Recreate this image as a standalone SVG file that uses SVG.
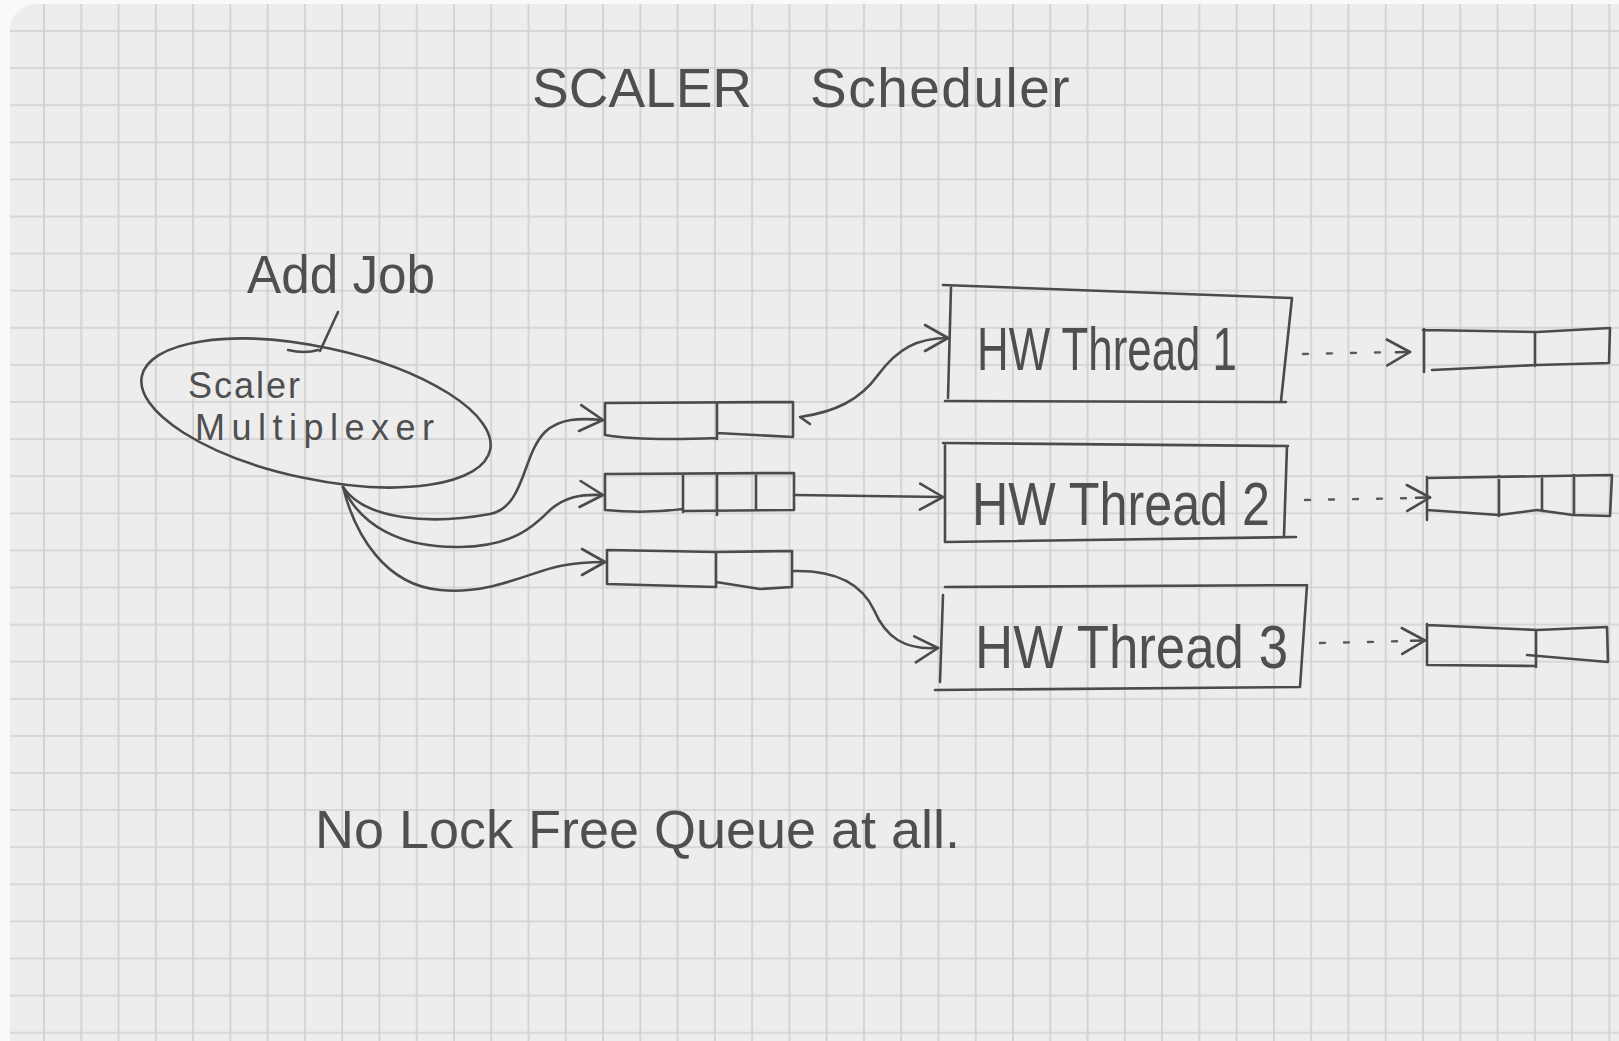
<svg xmlns="http://www.w3.org/2000/svg" width="1619" height="1041" viewBox="0 0 1619 1041">
  <style>
    .ink { fill: none; stroke: #4b4b4b; stroke-width: 2.6; stroke-linecap: round; stroke-linejoin: round; }
    .dot { fill: none; stroke: #5a5a5a; stroke-width: 2.4; stroke-linecap: round; stroke-dasharray: 5 19; }
    .hand { font-family: "Liberation Sans", Arial, sans-serif; fill: #4f4f4f; }
  </style>
  <defs>
    <pattern id="grid" x="25.365" y="12.45" width="37.27" height="37.1" patternUnits="userSpaceOnUse">
      <path d="M18.635 0 V37.1 M0 18.55 H37.27" stroke="#d0d0d0" stroke-width="1.7" fill="none"/>
    </pattern>
    <marker id="arr" viewBox="-26 -16 30 32" markerWidth="30" markerHeight="32" refX="0" refY="0" orient="auto" markerUnits="userSpaceOnUse">
      <path d="M-23 -13 L0 0 L-23 13" fill="none" stroke="#4b4b4b" stroke-width="2.6" stroke-linecap="round" stroke-linejoin="round"/>
    </marker>
  </defs>

  <!-- paper -->
  <rect x="0" y="0" width="1619" height="1041" fill="#f9f9f9"/>
  <path d="M10 30 Q12 6 36 4 L1619 4 L1619 1041 L10 1041 Z" fill="#ededed"/>
  <path d="M10 30 Q12 6 36 4 L1619 4 L1619 1041 L10 1041 Z" fill="url(#grid)"/>

  <g id="title">
    <text class="hand" y="107" font-size="55"><tspan x="532">SCALER</tspan> <tspan x="810" letter-spacing="1.5">Scheduler</tspan></text>
  </g>

  <g id="add-job">
    <text class="hand" x="247" y="293" font-size="54" textLength="188" lengthAdjust="spacingAndGlyphs">Add Job</text>
  </g>

  <g id="multiplexer">
    <ellipse class="ink" cx="316" cy="413" rx="178" ry="66" transform="rotate(12 316 413)"/>
    <path class="ink" d="M288 350 Q305 354 318 350"/>
    <text class="hand" font-size="36"><tspan x="188" y="398" letter-spacing="2">Scaler</tspan><tspan x="195" y="440" letter-spacing="6.5">Multiplexer</tspan></text>
  </g>

  <g id="queue-a">
    <path class="ink" d="M605 403 L793 402 L793 437 L717 433 M605 403 L605 435 Q640 441 717 438 M717 403 L717 439"/>
  </g>
  <g id="queue-b">
    <path class="ink" d="M605 474 L794 473 L794 510 L683 511 M605 474 L605 510 Q645 514 683 509 M683 475 L683 512 M717 475 L717 515 M756 475 L756 509"/>
  </g>
  <g id="queue-c">
    <path class="ink" d="M607 550 L716 552 L792 551 L792 587 L760 589 L716 582 M607 550 L607 584 L716 587 M716 552 L716 587"/>
  </g>

  <g id="thread-1">
    <path class="ink" d="M943 285 L1292 298 M951 287 L948 398 M945 401 L1286 402 M1292 298 L1281 401"/>
    <text class="hand" x="977" y="370" font-size="62" textLength="260" lengthAdjust="spacingAndGlyphs">HW Thread 1</text>
  </g>
  <g id="thread-2">
    <path class="ink" d="M943 443 L1288 446 M945 444 L945 542 M945 542 L1296 537 M1287 446 L1284 536"/>
    <text class="hand" x="972" y="525" font-size="62" textLength="298" lengthAdjust="spacingAndGlyphs">HW Thread 2</text>
  </g>
  <g id="thread-3">
    <path class="ink" d="M945 587 L1307 585 M943 595 L940 682 M935 690 L1300 687 M1307 585 L1300 687"/>
    <text class="hand" x="975" y="668" font-size="62" textLength="313" lengthAdjust="spacingAndGlyphs">HW Thread 3</text>
  </g>

  <g id="out-queue-1">
    <path class="ink" d="M1423 330 L1537 332 L1610 328 L1609 363 L1537 365 L1432 370 M1424 329 L1424 372 M1535 332 L1535 366"/>
  </g>
  <g id="out-queue-2">
    <path class="ink" d="M1427 478 L1612 475 L1610 516 L1573 515 L1537 510 L1499 515 L1427 510 M1427 477 L1427 520 M1499 476 L1499 516 M1542 476 L1542 511 M1574 475 L1574 515"/>
  </g>
  <g id="out-queue-3">
    <path class="ink" d="M1427 625 L1537 630 L1607 627 L1608 662 L1527 655 M1427 624 L1427 665 L1536 666 M1536 630 L1536 667"/>
  </g>

  <g id="connectors">
    <path class="ink" d="M338 312 L320 351"/>
    <path class="ink" marker-end="url(#arr)" d="M343 487 C365 520 430 525 490 514 C525 507 522 455 545 432 C560 418 580 418 603 420"/>
    <path class="ink" marker-end="url(#arr)" d="M343 487 C360 525 400 548 460 547 C515 546 535 525 550 510 C565 497 580 494 603 495"/>
    <path class="ink" marker-end="url(#arr)" d="M343 487 C355 535 385 585 440 590 C490 595 530 572 560 566 C575 563 590 562 605 562"/>
    <path class="ink" marker-end="url(#arr)" d="M810 424 L800 417 C835 412 860 400 878 375 C898 348 918 338 948 338"/>
    <path class="ink" marker-end="url(#arr)" d="M794 495 L943 497"/>
    <path class="ink" marker-end="url(#arr)" d="M793 571 C830 570 860 580 874 610 C886 638 905 650 938 648"/>
    <path class="dot" d="M1303 354 L1398 352"/>
    <path class="ink" marker-end="url(#arr)" d="M1396 352.3 L1410 352"/>
    <path class="dot" d="M1305 500 L1416 498"/>
    <path class="ink" marker-end="url(#arr)" d="M1416 497.8 L1430 497.5"/>
    <path class="dot" d="M1320 643 L1411 641"/>
    <path class="ink" marker-end="url(#arr)" d="M1411 640.8 L1425 640.5"/>
  </g>

  <g id="note">
    <text class="hand" x="315" y="848" font-size="54" textLength="645" lengthAdjust="spacingAndGlyphs">No Lock Free Queue at all.</text>
  </g>
</svg>
